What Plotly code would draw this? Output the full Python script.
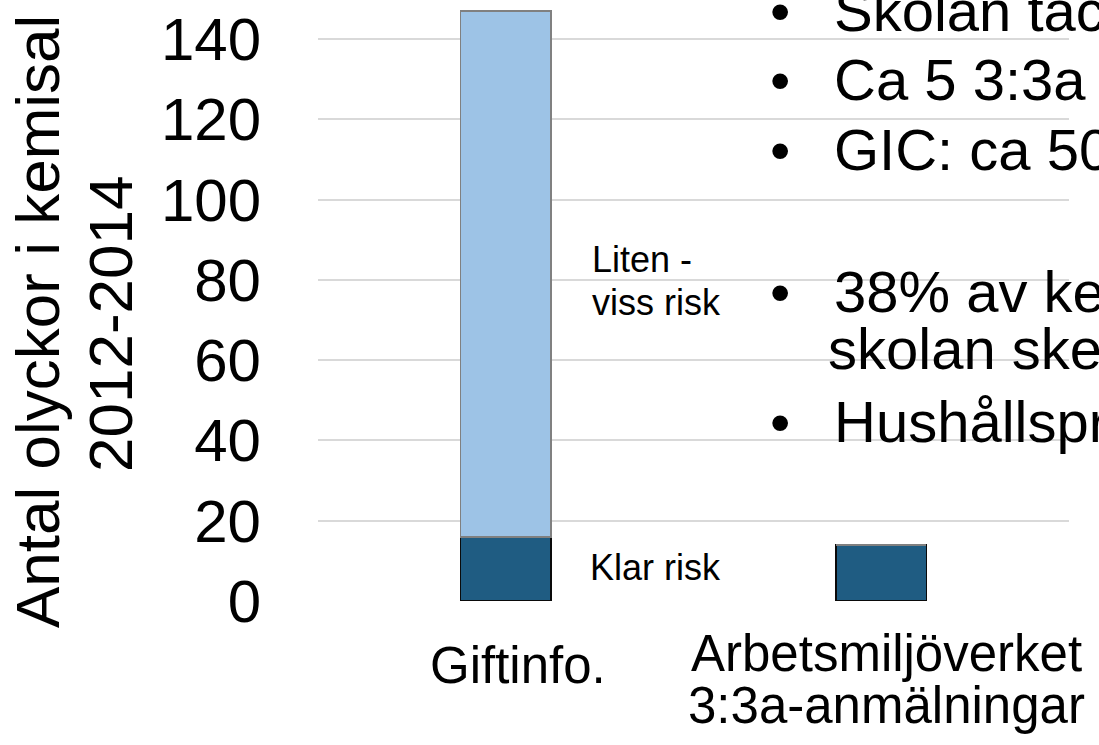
import plotly.graph_objects as go

# ---- data ----
categories = ["Giftinfo.", "Arbetsmiljöverket<br>3:3a-anmälningar"]
klar_risk = [16, 14]
liten_viss_risk = [131, 0]
series_names = ["Klar risk", "Liten -<br>viss risk"]
y_ticks = [0, 20, 40, 60, 80, 100, 120, 140]
y_title_lines = ["Antal olyckor i kemisal", "2012-2014"]
bullet_lines = [
    ("•", "Skolan tac"),
    ("•", "Ca 5 3:3a"),
    ("•", "GIC: ca 50"),
    ("•", "38% av ke"),
    ("", "skolan ske"),
    ("•", "Hushållspr"),
]

W, H = 1099, 745
L, R, T, B = 318, 30, 0, 144
PW, PH = W - L - R, H - T - B
FONT = "Arial, Liberation Sans, sans-serif"


def px(x):
    return (x - L) / PW


def py(y):
    return (T + PH - y) / PH


fig = go.Figure()
fig.add_trace(go.Bar(
    x=[0, 1], y=klar_risk, name=series_names[0],
    marker=dict(color="#1F5C82", line=dict(color="#0A0A0A", width=1.5)),
))
fig.add_trace(go.Bar(
    x=[0, 1], y=liten_viss_risk, name=series_names[1],
    marker=dict(color="#9DC3E6", line=dict(color="#808080", width=1.5)),
))

annotations = []
# y axis title (two rotated lines)
annotations.append(dict(text=y_title_lines[0], x=px(37), y=py(322), xref="paper", yref="paper",
                        textangle=-90, showarrow=False, xanchor="center", yanchor="middle",
                        font=dict(size=62, color="#000000", family=FONT)))
annotations.append(dict(text=y_title_lines[1], x=px(110), y=py(324), xref="paper", yref="paper",
                        textangle=-90, showarrow=False, xanchor="center", yanchor="middle",
                        font=dict(size=62, color="#000000", family=FONT)))

# category labels
annotations.append(dict(text=categories[0], x=0, xref="x", xshift=12, y=py(666), yref="paper",
                        showarrow=False, xanchor="center", yanchor="middle",
                        font=dict(size=51, color="#000000", family=FONT)))
for i, line in enumerate(categories[1].split("<br>")):
    annotations.append(dict(text=line, x=1, xref="x", xshift=5, y=py([653, 705][i]), yref="paper",
                            showarrow=False, xanchor="center", yanchor="middle",
                            font=dict(size=51, color="#000000", family=FONT)))

# series labels
for i, line in enumerate(series_names[1].split("<br>")):
    annotations.append(dict(text=line, x=px(590), y=py([260, 302][i]), xref="paper", yref="paper",
                            showarrow=False, xanchor="left", yanchor="middle",
                            font=dict(size=36, color="#000000", family=FONT)))
annotations.append(dict(text=series_names[0], x=px(588), y=py(567), xref="paper", yref="paper",
                        showarrow=False, xanchor="left", yanchor="middle",
                        font=dict(size=36, color="#000000", family=FONT)))

# bullet text box
bullet_mid = [11, 79, 149, 291, 349, 421]
for (b, t), ym in zip(bullet_lines, bullet_mid):
    if b:
        annotations.append(dict(text=b, x=px(780), y=py(ym), xref="paper", yref="paper",
                                showarrow=False, xanchor="center", yanchor="middle",
                                font=dict(size=58, color="#000000", family=FONT)))
    annotations.append(dict(text=t, x=px(832 if b else 826), y=py(ym), xref="paper", yref="paper",
                            showarrow=False, xanchor="left", yanchor="middle",
                            font=dict(size=58, color="#000000", family=FONT)))

fig.update_layout(
    width=W, height=H,
    margin=dict(l=L, r=R, t=T, b=B, pad=0),
    paper_bgcolor="white", plot_bgcolor="white",
    barmode="stack", bargap=0.76,
    showlegend=False,
    annotations=annotations,
    shapes=[dict(type="rect", xref="paper", yref="paper", x0=px(750), x1=1.0,
                 y0=py(480), y1=1.0, fillcolor="white", line=dict(width=0), layer="between")],
    xaxis=dict(range=[-0.5, 1.5], showticklabels=False, showgrid=False, zeroline=False,
               showline=False, ticks=""),
    yaxis=dict(range=[0, PH / (562 / 140)], tickvals=y_ticks, ticks="",
               showgrid=True, gridcolor="#D9D9D9", gridwidth=1.5, zeroline=False,
               showline=False, ticklabelstandoff=56,
               tickfont=dict(size=60, color="#000000", family=FONT)),
)

fig.write_html("out.html", config={"displayModeBar": False},
               post_script="document.body.style.margin='0';document.body.style.overflow='hidden';")
